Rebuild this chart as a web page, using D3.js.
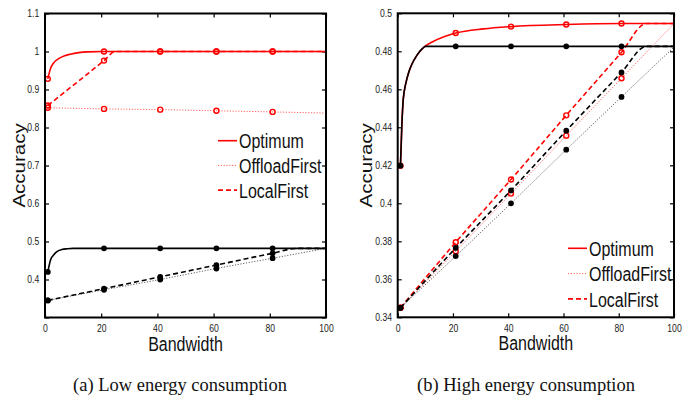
<!DOCTYPE html>
<html>
<head>
<meta charset="utf-8">
<script src="https://cdn.jsdelivr.net/npm/d3@7"></script>
<style>
  html, body { margin: 0; padding: 0; background: #fff; }
  svg text { font-family: "Liberation Sans", Arial, Helvetica, sans-serif; }
  svg text.caption { font-family: "Liberation Serif", "Times New Roman", serif; }
</style>
</head>
<body>
<div id="chart"></div>
<script>
(function () {
  "use strict";

  // shared x axis + marker positions
  const bandwidthTicks = [0, 20, 40, 60, 80, 100];
  const markerBandwidths = [1, 21, 41, 61, 81];
  const legendNames = ["Optimum", "OffloadFirst", "LocalFirst"];

  // (a) low energy consumption
  const lowYTicks = [0.3, 0.4, 0.5, 0.6, 0.7, 0.8, 0.9, 1.0, 1.1];
  const lowYLabels = ["", "0.4", "0.5", "0.6", "0.7", "0.8", "0.9", "1", "1.1"];
  const lowOptimumRed = [[1, 0.928], [2, 0.956], [3, 0.969], [5, 0.982], [7, 0.989], [9, 0.993], [12, 0.997], [15, 0.999], [21, 1.0], [41, 1.0], [61, 1.0], [81, 1.0], [100, 1.0]];
  const lowOffloadRed = [[1, 0.852], [21, 0.849], [41, 0.847], [61, 0.844], [81, 0.841], [100, 0.838]];
  const lowLocalRed = [[1, 0.858], [21, 0.976], [25, 1.0], [41, 1.0], [61, 1.0], [81, 1.0], [100, 1.0]];
  const lowOptimumBlack = [[1, 0.42], [2, 0.452], [3, 0.464], [4, 0.472], [6, 0.479], [8, 0.481], [10, 0.482], [21, 0.482], [41, 0.482], [61, 0.482], [81, 0.482], [100, 0.482]];
  const lowOffloadBlack = [[1, 0.345], [21, 0.373], [41, 0.400], [61, 0.429], [81, 0.456], [100, 0.482]];
  const lowLocalBlack = [[1, 0.345], [21, 0.376], [41, 0.407], [61, 0.438], [81, 0.469], [90, 0.482], [100, 0.482]];

  // (b) high energy consumption
  const highYTicks = [0.34, 0.36, 0.38, 0.40, 0.42, 0.44, 0.46, 0.48, 0.50];
  const highYLabels = ["0.34", "0.36", "0.38", "0.4", "0.42", "0.44", "0.46", "0.48", "0.5"];
  const highOptimumRed = [[1, 0.4198], [1.5, 0.441], [2, 0.4546], [3, 0.4635], [4, 0.469], [5, 0.4728], [7, 0.478], [9, 0.4815], [13, 0.4853], [17, 0.4878], [21, 0.4896], [31, 0.4918], [41, 0.493], [61, 0.4941], [81, 0.4946], [100, 0.4946]];
  const highOffloadRed = [[1, 0.345], [21, 0.3748], [41, 0.4051], [61, 0.4356], [81, 0.4658], [100, 0.4946]];
  const highLocalRed = [[1, 0.345], [21, 0.3795], [41, 0.4125], [61, 0.4463], [81, 0.4795], [90, 0.4946], [100, 0.4946]];
  const highOptimumBlack = [[1, 0.4198], [1.5, 0.441], [2, 0.4546], [3, 0.4635], [4, 0.469], [5, 0.4728], [7, 0.478], [9, 0.4815], [10, 0.4826], [21, 0.4826], [41, 0.4826], [61, 0.4826], [81, 0.4826], [100, 0.4826]];
  const highOffloadBlack = [[1, 0.345], [21, 0.3722], [41, 0.400], [61, 0.4282], [81, 0.456], [100, 0.4822]];
  const highLocalBlack = [[1, 0.345], [21, 0.3765], [41, 0.4068], [61, 0.4382], [81, 0.4689], [90, 0.4826], [100, 0.4826]];

  const styles = {
    solid: { dash: null, width: 1.6, opacity: 1 },
    dotted: { dash: "1.2,1.6", width: 0.9, opacity: 0.7 },
    dashed: { dash: "5,3", width: 1.6, opacity: 1 }
  };
  // the original figure is squeezed sideways, so text is condensed
  const squeeze = 0.82;

  const svg = d3.select("#chart").append("svg").attr("width", 694).attr("height", 396);

  function styleAxis(g) {
    g.select(".domain").remove();
    g.selectAll("line").attr("stroke", "#000").attr("stroke-width", 1.2);
    g.selectAll("text")
      .attr("fill", "#222")
      .attr("font-size", 10.5)
      .attr("transform", "scale(" + squeeze + ",1)");
  }

  function narrowText(parent, x, y, size, str) {
    return parent.append("text")
      .attr("transform", "translate(" + x + "," + y + ") scale(" + squeeze + ",1)")
      .attr("font-size", size)
      .attr("fill", "#111")
      .text(str);
  }

  function drawPanel(p) {
    const x = d3.scaleLinear().domain([0, 100]).range([p.left, p.right]);
    const y = d3.scaleLinear().domain(p.yDomain).range([p.bottom, p.top]);
    const g = svg.append("g");

    g.append("g")
      .attr("transform", "translate(0," + p.bottom + ")")
      .call(d3.axisBottom(x).tickValues(bandwidthTicks).tickSize(-4).tickPadding(7))
      .call(styleAxis);
    g.append("g")
      .attr("transform", "translate(0," + p.top + ")")
      .call(d3.axisTop(x).tickValues(bandwidthTicks).tickSize(-4).tickFormat(""))
      .call(styleAxis);
    g.append("g")
      .attr("transform", "translate(" + p.left + ",0)")
      .call(d3.axisLeft(y).tickValues(p.yTicks).tickSize(-4).tickPadding(7)
        .tickFormat(function (_, i) { return p.yLabels[i]; }))
      .call(styleAxis);
    g.append("g")
      .attr("transform", "translate(" + p.right + ",0)")
      .call(d3.axisRight(y).tickValues(p.yTicks).tickSize(-4).tickFormat(""))
      .call(styleAxis);

    const line = d3.line()
      .x(function (d) { return x(d[0]); })
      .y(function (d) { return y(d[1]); })
      .curve(d3.curveMonotoneX);

    p.series.forEach(function (s) {
      const st = styles[s.style];
      g.append("path")
        .datum(s.data)
        .attr("d", line)
        .attr("fill", "none")
        .attr("stroke", s.color)
        .attr("stroke-width", st.width)
        .attr("stroke-opacity", st.opacity)
        .attr("stroke-dasharray", st.dash);
      const marks = s.data.filter(function (d) { return markerBandwidths.indexOf(d[0]) >= 0; });
      g.selectAll(null)
        .data(marks)
        .enter()
        .append("circle")
        .attr("cx", function (d) { return x(d[0]); })
        .attr("cy", function (d) { return y(d[1]); })
        .attr("r", s.color === "#000" ? 2.2 : 2.5)
        .attr("fill", s.color === "#000" ? "#000" : "none")
        .attr("stroke", s.color)
        .attr("stroke-width", 1.4);
    });

    // box
    g.append("rect")
      .attr("x", p.left).attr("y", p.top)
      .attr("width", p.right - p.left).attr("height", p.bottom - p.top)
      .attr("fill", "none").attr("stroke", "#000").attr("stroke-width", 2);

    // axis titles
    narrowText(g, (p.left + p.right) / 2, p.bottom + 33, 19.5, "Bandwidth")
      .attr("text-anchor", "middle");
    g.append("text")
      .attr("transform", "translate(" + p.yTitleX + "," + (p.top + p.bottom) / 2 + ") rotate(-90) scale(1," + squeeze + ")")
      .attr("text-anchor", "middle").attr("font-size", 20.5).attr("fill", "#111")
      .text("Accuracy");

    // legend
    legendNames.forEach(function (name, i) {
      const st = styles[["solid", "dotted", "dashed"][i]];
      const ly = p.legendY + i * p.legendStep;
      g.append("line")
        .attr("x1", p.legendX).attr("x2", p.legendX + 19)
        .attr("y1", ly).attr("y2", ly)
        .attr("stroke", "#f00").attr("stroke-width", st.width)
        .attr("stroke-opacity", st.opacity)
        .attr("stroke-dasharray", st.dash);
      narrowText(g, p.legendX + 21, ly + 7.6, 19.5, name);
    });

    g.append("text")
      .attr("class", "caption")
      .attr("x", p.captionX).attr("y", 391)
      .attr("text-anchor", "middle").attr("font-size", 18.5).attr("fill", "#111")
      .text(p.caption);
  }

  drawPanel({
    left: 45, right: 326, top: 13.5, bottom: 317.5,
    yDomain: [0.3, 1.1], yTicks: lowYTicks, yLabels: lowYLabels, yTitleX: 25,
    legendX: 218, legendY: 140.7, legendStep: 24.7,
    captionX: 180, caption: "(a) Low energy consumption",
    series: [
      { data: lowOptimumRed, color: "#f00", style: "solid" },
      { data: lowOffloadRed, color: "#f00", style: "dotted" },
      { data: lowLocalRed, color: "#f00", style: "dashed" },
      { data: lowOptimumBlack, color: "#000", style: "solid" },
      { data: lowOffloadBlack, color: "#000", style: "dotted" },
      { data: lowLocalBlack, color: "#000", style: "dashed" }
    ]
  });

  drawPanel({
    left: 397.7, right: 674, top: 13.3, bottom: 317.3,
    yDomain: [0.34, 0.5], yTicks: highYTicks, yLabels: highYLabels, yTitleX: 372,
    legendX: 568, legendY: 248.3, legendStep: 25.3,
    captionX: 526, caption: "(b) High energy consumption",
    series: [
      { data: highOptimumRed, color: "#f00", style: "solid" },
      { data: highOffloadRed, color: "#f00", style: "dotted" },
      { data: highLocalRed, color: "#f00", style: "dashed" },
      { data: highOptimumBlack, color: "#000", style: "solid" },
      { data: highOffloadBlack, color: "#000", style: "dotted" },
      { data: highLocalBlack, color: "#000", style: "dashed" }
    ]
  });
})();
</script>
</body>
</html>
